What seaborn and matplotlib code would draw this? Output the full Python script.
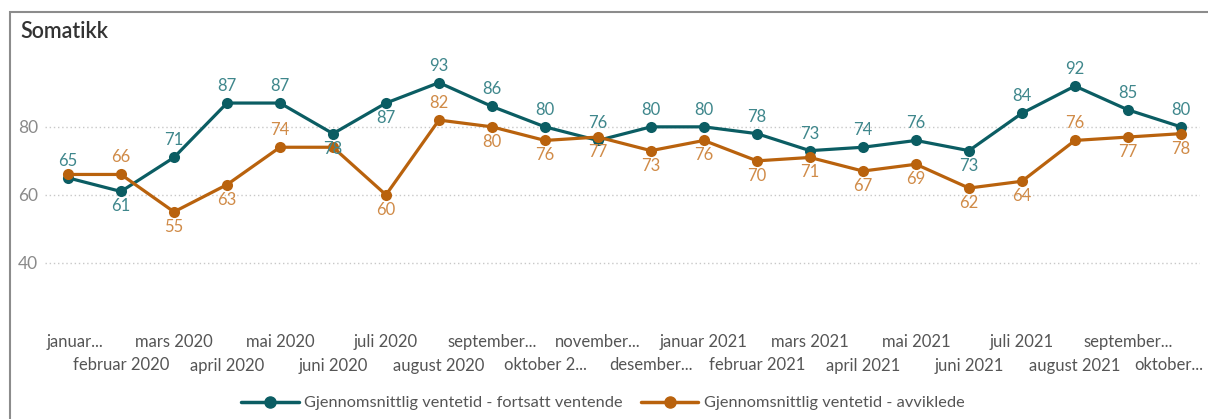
import matplotlib
matplotlib.use("Agg")
import matplotlib.pyplot as plt
import matplotlib.transforms as mtransforms
import seaborn as sns
import pandas as pd
from matplotlib.lines import Line2D
from matplotlib.patches import Rectangle

months = ["januar...", "februar 2020", "mars 2020", "april 2020", "mai 2020", "juni 2020",
          "juli 2020", "august 2020", "september...", "oktober 2...", "november...", "desember...",
          "januar 2021", "februar 2021", "mars 2021", "april 2021", "mai 2021", "juni 2021",
          "juli 2021", "august 2021", "september...", "oktober..."]
fortsatt = [65, 61, 71, 87, 87, 78, 87, 93, 86, 80, 76, 80, 80, 78, 73, 74, 76, 73, 84, 92, 85, 80]
avviklede = [66, 66, 55, 63, 74, 74, 60, 82, 80, 76, 77, 73, 76, 70, 71, 67, 69, 62, 64, 76, 77, 78]
series_names = ["Gjennomsnittlig ventetid - fortsatt ventende",
                "Gjennomsnittlig ventetid - avviklede"]
yticks = [40, 60, 80]

# label placement (a = above, b = below, n = none)
pos_f = list("abaaabbaaaaaaaaaabaaaa")
pos_a = list("nabbanbabbbbbbbbbbbabb")

teal = "#0b5d63"
orange = "#b9620d"
teal_lbl = "#3f878c"
orange_lbl = "#d08b48"

sns.set_theme(style="white")
plt.rcParams["font.family"] = ["Lato", "DejaVu Sans"]

fig = plt.figure(figsize=(12.08, 4.19), dpi=100)
W, H = 1208, 419
ax = fig.add_axes([45 / W, 1 - 320 / H, (1200 - 45) / W, (320 - 50) / H])

idx = list(range(len(months)))
df = pd.DataFrame({
    "idx": idx * 2,
    "value": fortsatt + avviklede,
    "series": [series_names[0]] * len(idx) + [series_names[1]] * len(idx),
})
sns.lineplot(data=df, x="idx", y="value", hue="series", palette=[teal, orange],
             marker="o", markersize=8, markeredgewidth=0, linewidth=2.3, ax=ax, legend=False)

ax.set_xlim(-0.434, 21.36)
ax.set_ylim(23.2, 102.6)
ax.set_yticks(yticks)
ax.set_yticklabels([str(v) for v in yticks], color="#8a8a8a", fontsize=12.5)
for y in yticks:
    ax.axhline(y, color="#c8c8c8", linestyle=(0, (1, 2)), linewidth=1.0, zorder=0)
ax.tick_params(axis="y", length=0, pad=5)

even = idx[0::2]
odd = idx[1::2]
ax.set_xticks(even)
ax.set_xticklabels([months[i] for i in even], color="#555555", fontsize=12)
ax.set_xticks(odd, minor=True)
ax.set_xticklabels([months[i] for i in odd], minor=True, color="#555555", fontsize=12)
ax.tick_params(axis="x", which="major", length=0, pad=10)
ax.tick_params(axis="x", which="minor", length=0, pad=27)
ax.set_xlabel("")
ax.set_ylabel("")
for s in ax.spines.values():
    s.set_visible(False)

# keep the outermost tick labels inside the card, as in the reference
first = ax.get_xticklabels()[0]
first.set_horizontalalignment("left")
first.set_transform(first.get_transform() + mtransforms.ScaledTranslation(-21 / 100, 0, fig.dpi_scale_trans))
last = ax.get_xticklabels(minor=True)[-1]
last.set_horizontalalignment("right")
last.set_transform(last.get_transform() + mtransforms.ScaledTranslation(22 / 100, 0, fig.dpi_scale_trans))

for i in idx:
    for vals, pos, col in ((fortsatt, pos_f, teal_lbl), (avviklede, pos_a, orange_lbl)):
        p = pos[i]
        if p == "n":
            continue
        off = 17 if p == "a" else -15
        ax.annotate(str(vals[i]), (i, vals[i]), xytext=(0, off), textcoords="offset pixels",
                    ha="center", va="center", color=col, fontsize=12)

handles = [Line2D([0], [0], color=teal, marker="o", markersize=8, linewidth=2.5),
           Line2D([0], [0], color=orange, marker="o", markersize=8, linewidth=2.5)]
fig.legend(handles, series_names, loc="center", bbox_to_anchor=(603 / W, 1 - 403 / H),
           ncol=2, frameon=False, fontsize=11.8, handlelength=3.5, columnspacing=1.1,
           labelcolor="#555555", handletextpad=0.35)

fig.text(20 / W, 1 - 31 / H, "Somatikk", fontsize=15.5, color="#333333", va="center", ha="left",
         fontweight="semibold")

fig.patches.append(Rectangle((10 / W, -0.1), 1.1, 1 - 12 / H + 0.1, transform=fig.transFigure,
                             fill=False, edgecolor="#8c8c8c", linewidth=1.5))

fig.savefig("out.png", dpi=100)
